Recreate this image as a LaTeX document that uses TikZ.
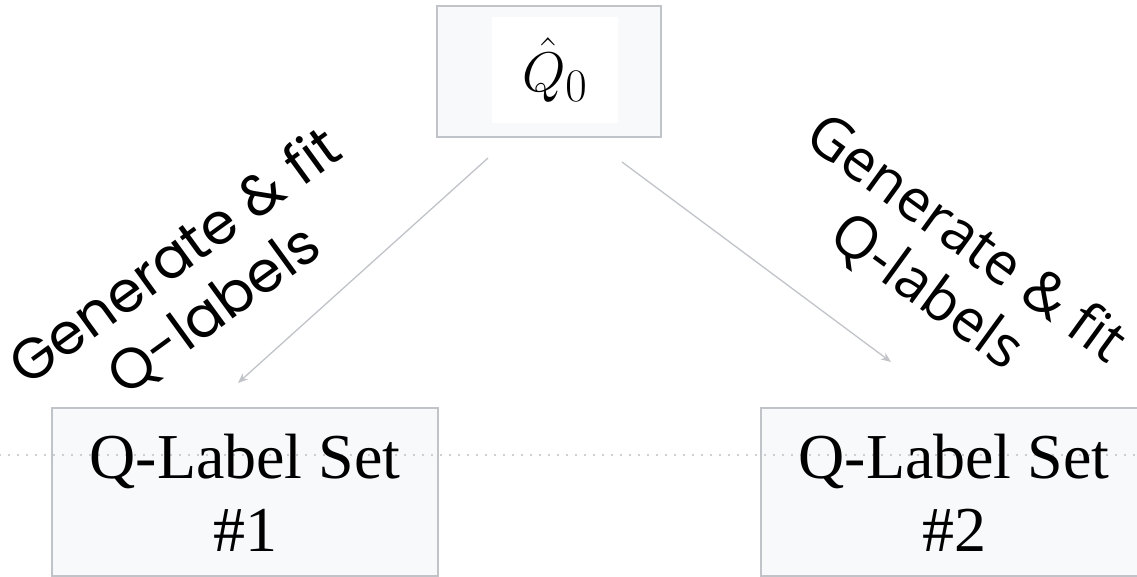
\documentclass[tikz,border=0pt]{standalone}
\usepackage{fontspec}
\setmainfont{Liberation Serif}
\newfontfamily\leftlabelfont{Poppins}
\newfontfamily\rightlabelfont{Open Sans}
\usetikzlibrary{arrows.meta}
\definecolor{edgegray}{HTML}{C0C3C8}
\definecolor{boxfill}{HTML}{F8F9FA}
\definecolor{dotgray}{HTML}{BCBFC4}
\begin{document}
\begin{tikzpicture}[x=1pt,y=-1pt,
  box/.style={draw=edgegray, line width=1.5pt, fill=boxfill, inner sep=0pt},
  settext/.style={align=center, font=\fontsize{64}{73}\selectfont},
  flow/.style={draw=edgegray, line width=1.3pt, -{Stealth[length=10pt,width=8pt]}},
  dotline/.style={draw=dotgray, line width=2.3pt, line cap=round, dash pattern=on 0pt off 9pt},
  steplabel/.style={align=center, inner sep=0pt}]
\useasboundingbox (0,0) rectangle (1137,577);

% boxes
\node[box, minimum width=224, minimum height=131] (top) at (549,71.5) {};
\node[fill=white, inner sep=0pt, minimum width=126, minimum height=106]
  (qhat) at (555,70) {\scalebox{2.25}{\fontsize{24.88}{30}\selectfont$\hat{Q}_0$}};
\node[box, minimum width=386, minimum height=168] (set1) at (245,492) {};
\node[box, minimum width=386, minimum height=168] (set2) at (954,492) {};

% dotted guide across the page
\coordinate (guideL) at (0,455);
\coordinate (guideR) at (1137,455);
\draw[dotline] (guideL) -- (guideR);

% box texts
\node[settext] (set1text) at (245,493) {Q-Label Set\\\#1};
\node[settext] (set2text) at (954,493) {Q-Label Set\\\#2};

% arrows
\coordinate (fromL) at (488,158);
\coordinate (toL) at (238,383);
\coordinate (fromR) at (622,162);
\coordinate (toR) at (891,362);
\draw[flow] (fromL) -- (toL);
\draw[flow] (fromR) -- (toR);

% arrow labels
\node[steplabel, rotate=36, font=\leftlabelfont\fontsize{57}{66}\selectfont]
  (labL) at (195,284) {Generate \& fit\\Q-labels};
\node[steplabel, rotate=-36, font=\rightlabelfont\fontsize{58}{66}\selectfont]
  (labR) at (946,266) {Generate \& fit\\Q-labels};
\end{tikzpicture}
\end{document}
